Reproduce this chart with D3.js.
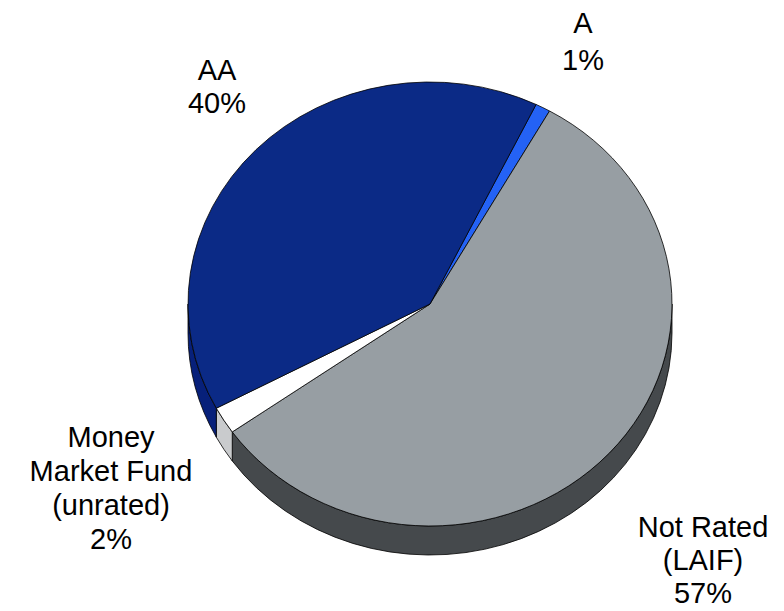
<!DOCTYPE html>
<html>
<head>
<meta charset="utf-8">
<script src="https://cdn.jsdelivr.net/npm/d3@7"></script>
<style>
  html, body { margin: 0; padding: 0; background: #fff; }
  svg { display: block; }
  text { font-family: "Liberation Sans", Arial, sans-serif; font-size: 29px; fill: #000; }
</style>
</head>
<body>
<svg id="chart" width="784" height="611"></svg>
<script>
// Portfolio credit quality, clockwise from the top-right
const categories = ["A", "Not Rated (LAIF)", "Money Market Fund (unrated)", "AA"];
const values = [1, 57, 2, 40];
const labelLines = [["A", "1%"], ["Not Rated", "(LAIF)", "57%"], ["Money", "Market Fund", "(unrated)", "2%"], ["AA", "40%"]];
const topColors = ["#2462f5", "#979ea3", "#ffffff", "#0b2a86"];
const sideColors = ["#1a48b8", "#45494c", "#c9cbcd", "#07207a"];

const svg = d3.select("#chart");

// Tilted disc geometry
const cx = 430, cy = 304, rx = 242, ry = 222, depth = 29;
const startDeg = 26;

const pie = d3.pie().sort(null).value(d => d)
  .startAngle(startDeg * Math.PI / 180)
  .endAngle(startDeg * Math.PI / 180 + 2 * Math.PI);
const arcs = pie(values);

// angle measured clockwise from 12 o'clock
const pt = (a, dy = 0) => [cx + rx * Math.sin(a), cy - ry * Math.cos(a) + dy];

function topPath(a0, a1) {
  const p0 = pt(a0), p1 = pt(a1);
  const large = (a1 - a0) > Math.PI ? 1 : 0;
  return `M${cx},${cy}L${p0[0]},${p0[1]}A${rx},${ry} 0 ${large} 1 ${p1[0]},${p1[1]}Z`;
}

// Outer wall is visible only on the near half (90°..270°), repeated each turn
function sidePath(a0, a1) {
  const segs = [];
  for (let k = 0; k < 2; k++) {
    const lo = Math.PI / 2 + k * 2 * Math.PI, hi = 3 * Math.PI / 2 + k * 2 * Math.PI;
    const s = Math.max(a0, lo), e = Math.min(a1, hi);
    if (e > s) {
      const p0 = pt(s), p1 = pt(e), q1 = pt(e, depth), q0 = pt(s, depth);
      segs.push(`M${p0[0]},${p0[1]}A${rx},${ry} 0 0 1 ${p1[0]},${p1[1]}` +
        `L${q1[0]},${q1[1]}A${rx},${ry} 0 0 0 ${q0[0]},${q0[1]}Z`);
    }
  }
  return segs.join("");
}

const g = svg.append("g");

g.selectAll("path.side").data(arcs).join("path")
  .attr("class", "side")
  .attr("d", d => sidePath(d.startAngle, d.endAngle))
  .attr("fill", (d, i) => sideColors[i])
  .attr("stroke", "#000").attr("stroke-width", 0.8).attr("stroke-linejoin", "round");

g.selectAll("path.top").data(arcs).join("path")
  .attr("class", "top")
  .attr("d", d => topPath(d.startAngle, d.endAngle))
  .attr("fill", (d, i) => topColors[i])
  .attr("stroke", "#000").attr("stroke-width", 0.8).attr("stroke-linejoin", "round");

// Category labels: centre x, first baseline, line step
const labelPos = [[583, 33, 37], [703, 537, 33], [111, 447, 34], [217, 80, 33]];
svg.selectAll("text.lbl").data(labelLines).join("text")
  .attr("class", "lbl")
  .attr("text-anchor", "middle")
  .attr("x", (d, i) => labelPos[i][0])
  .attr("y", (d, i) => labelPos[i][1])
  .each(function (lines, i) {
    d3.select(this).selectAll("tspan").data(lines).join("tspan")
      .attr("x", labelPos[i][0])
      .attr("dy", (l, j) => j === 0 ? 0 : labelPos[i][2])
      .text(l => l);
  });
</script>
</body>
</html>
